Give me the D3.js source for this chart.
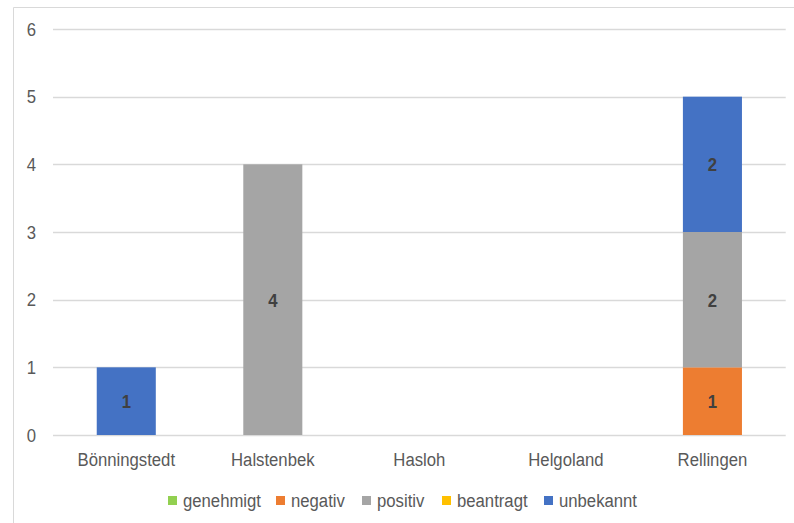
<!DOCTYPE html>
<meta charset="utf-8">
<style>
body { margin: 0; background: #fff; }
text { font-family: "Liberation Sans", Arial, sans-serif; }
.axis text { fill: #595959; font-size: 19px; }
.lbl { fill: #404040; font-size: 19px; font-weight: bold; }
</style>
<svg width="794" height="523"></svg>
<script src="https://cdn.jsdelivr.net/npm/d3@7"></script>
<script>
var categories = ["Bönningstedt", "Halstenbek", "Hasloh", "Helgoland", "Rellingen"];
var seriesNames = ["genehmigt", "negativ", "positiv", "beantragt", "unbekannt"];
var genehmigt = [0, 0, 0, 0, 0];
var negativ = [0, 0, 0, 0, 1];
var positiv = [0, 4, 0, 0, 2];
var beantragt = [0, 0, 0, 0, 0];
var unbekannt = [1, 0, 0, 0, 2];
var yTicks = [0, 1, 2, 3, 4, 5, 6];
var colors = ["#92d050", "#ed7d31", "#a5a5a5", "#ffc000", "#4472c4"];

var squeeze = "scale(0.88,1)"; // the text in the original is a bit narrow

var svg = d3.select("svg");

// chart frame
svg.append("path")
    .attr("d", "M13.5,523V7.5H794")
    .attr("fill", "none")
    .attr("stroke", "#d9d9d9");

var values = [genehmigt, negativ, positiv, beantragt, unbekannt];
var table = categories.map(function(c, i) {
  var row = {cat: c};
  seriesNames.forEach(function(s, j) { row[s] = values[j][i]; });
  return row;
});

var x = d3.scaleBand().domain(categories).range([53, 785.7])
    .paddingInner(0.597).paddingOuter(0.2985);
var y = d3.scaleLinear().domain([0, 6]).range([435, 29]);
var color = d3.scaleOrdinal().domain(seriesNames).range(colors);

// gridlines
svg.append("g").selectAll("line")
    .data(yTicks)
  .enter().append("line")
    .attr("x1", 53).attr("x2", 785.7)
    .attr("y1", function(d) { return Math.round(y(d)) + 0.5; })
    .attr("y2", function(d) { return Math.round(y(d)) + 0.5; })
    .attr("stroke", "#d9d9d9")
    .attr("stroke-width", 1.3);

// y axis labels
var yAxis = svg.append("g")
    .attr("class", "axis")
    .attr("transform", "translate(36,0)")
    .call(d3.axisLeft(y).tickValues(yTicks).tickFormat(d3.format("d")).tickSize(0).tickPadding(0));
yAxis.select(".domain").remove();
yAxis.selectAll("text").attr("transform", squeeze);

// x axis labels
var xAxis = svg.append("g")
    .attr("class", "axis")
    .attr("transform", "translate(0,450)")
    .call(d3.axisBottom(x).tickSize(0).tickPadding(0));
xAxis.select(".domain").remove();
xAxis.selectAll("text").attr("dy", "0.85em").attr("transform", squeeze);

var stack = d3.stack().keys(seriesNames);
var layers = stack(table);

var layer = svg.append("g").selectAll("g")
    .data(layers)
  .enter().append("g")
    .attr("fill", function(d) { return color(d.key); });

layer.selectAll("rect")
    .data(function(d) { return d; })
  .enter().append("rect")
    .filter(function(d) { return d[1] > d[0]; })
    .attr("x", function(d) { return x(d.data.cat); })
    .attr("width", x.bandwidth())
    .attr("y", function(d) { return y(d[1]); })
    .attr("height", function(d) { return y(d[0]) - y(d[1]); });

layer.selectAll("text")
    .data(function(d) { return d.filter(function(p) { return p[1] > p[0]; }); })
  .enter().append("text")
    .attr("class", "lbl")
    .attr("text-anchor", "middle")
    .attr("transform", function(d) {
      return "translate(" + (x(d.data.cat) + x.bandwidth() / 2) + "," + y((d[0] + d[1]) / 2) + ") " + squeeze;
    })
    .attr("dy", "0.36em")
    .text(function(d) { return d[1] - d[0]; });

// legend
var legendX = [168, 276, 362, 442, 544];
var legend = svg.append("g").selectAll("g")
    .data(seriesNames)
  .enter().append("g")
    .attr("transform", function(d, i) { return "translate(" + legendX[i] + ",496)"; });
legend.append("rect")
    .attr("width", 9).attr("height", 9)
    .attr("fill", function(d) { return color(d); });
legend.append("text")
    .attr("transform", "translate(15,4.5) " + squeeze)
    .attr("dy", "0.36em")
    .attr("fill", "#595959")
    .style("font-size", "19px")
    .text(function(d) { return d; });
</script>
